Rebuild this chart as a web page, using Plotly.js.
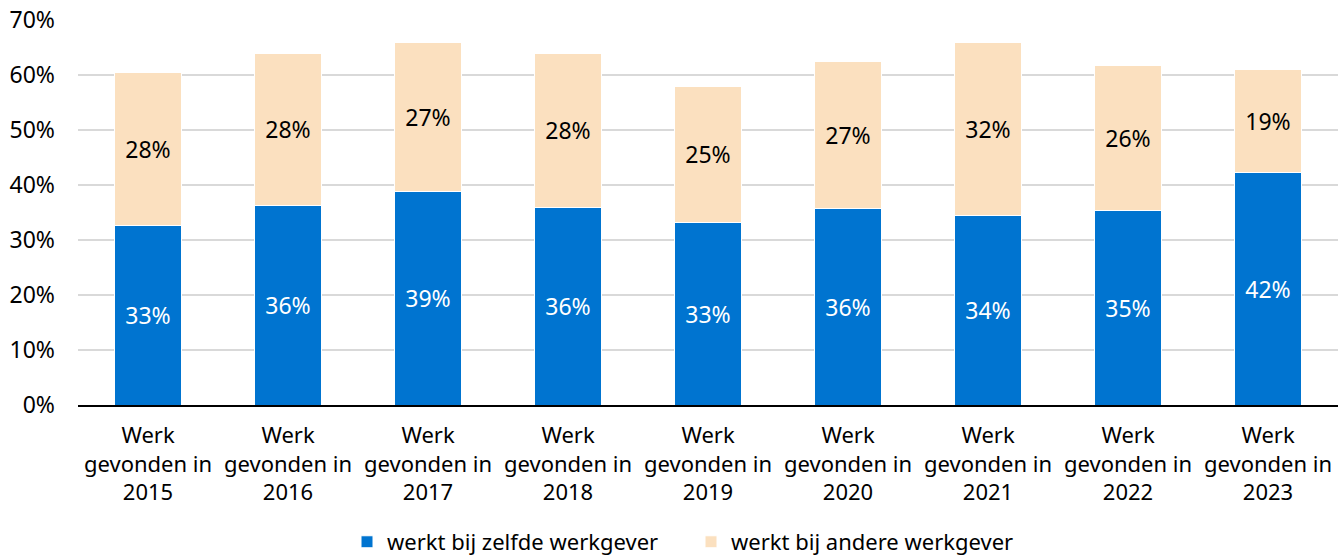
<!DOCTYPE html>
<html>
<head>
<meta charset="utf-8">
<script src="https://cdn.plot.ly/plotly-3.0.1.min.js"></script>
<style>html,body{margin:0;padding:0;background:#fff;}#chart{width:1341px;height:557px;}</style>
</head>
<body>
<div id="chart"></div>
<script>
const categories = [
  "Werk<br>gevonden in<br>2015", "Werk<br>gevonden in<br>2016", "Werk<br>gevonden in<br>2017",
  "Werk<br>gevonden in<br>2018", "Werk<br>gevonden in<br>2019", "Werk<br>gevonden in<br>2020",
  "Werk<br>gevonden in<br>2021", "Werk<br>gevonden in<br>2022", "Werk<br>gevonden in<br>2023"
];
const zelfdeWerkgever = [32.7, 36.2, 38.9, 36.0, 33.1, 35.8, 34.4, 35.3, 42.3];
const andereWerkgever = [27.7, 27.8, 27.1, 28.0, 24.9, 26.7, 31.6, 26.4, 18.7];
const yTickVals = [0, 10, 20, 30, 40, 50, 60, 70];
const yTickText = ["0%", "10%", "20%", "30%", "40%", "50%", "60%", "70%"];

const FONT = "Noto Sans, Open Sans, sans-serif";

const traces = [
  {
    type: "bar", name: "werkt bij zelfde werkgever",
    x: categories, y: zelfdeWerkgever,
    marker: {color: "#0074D0", line: {color: "#ffffff", width: 1}},
    texttemplate: "%{y:.0f}%", textposition: "inside", insidetextanchor: "middle",
    textfont: {color: "#ffffff", size: 23, family: FONT},
    hoverinfo: "skip"
  },
  {
    type: "bar", name: "werkt bij andere werkgever",
    x: categories, y: andereWerkgever,
    marker: {color: "#FBE0BF", line: {color: "#ffffff", width: 1}},
    texttemplate: "%{y:.0f}%", textposition: "inside", insidetextanchor: "middle",
    textfont: {color: "#000000", size: 23, family: FONT},
    hoverinfo: "skip"
  }
];

const layout = {
  width: 1341, height: 557,
  margin: {l: 78, r: 3, t: 20, b: 152},
  barmode: "stack", bargap: 0.515,
  paper_bgcolor: "#ffffff", plot_bgcolor: "#ffffff",
  font: {family: FONT, size: 22, color: "#000000"},
  showlegend: true,
  legend: {orientation: "h", x: 347 / 1341, xanchor: "left", xref: "container",
           y: 0.027, yanchor: "middle", yref: "container",
           entrywidth: 299, entrywidthmode: "pixels",
           font: {size: 22, family: FONT}, traceorder: "normal", itemwidth: 30},
  xaxis: {type: "category", showgrid: false, showline: true, linecolor: "#000000", linewidth: 1.5,
          ticks: "", ticklabelstandoff: 10, tickfont: {size: 22, family: FONT}, fixedrange: true, automargin: false},
  yaxis: {range: [0, 70], tickvals: yTickVals, ticktext: yTickText, showgrid: true,
          gridcolor: "#d9d9d9", gridwidth: 1.5, zeroline: false, showline: false,
          ticks: "", ticklabelstandoff: 22, tickfont: {size: 23, family: FONT}, fixedrange: true, automargin: false}
};

Plotly.newPlot("chart", traces, layout, {displayModeBar: false, staticPlot: true});
</script>
</body>
</html>
